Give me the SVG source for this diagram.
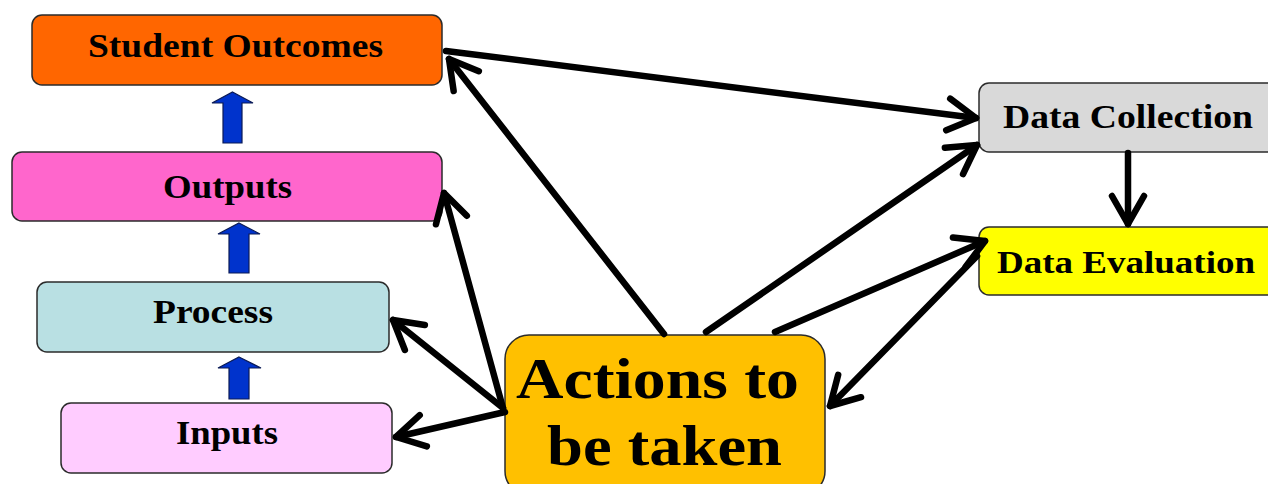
<svg xmlns="http://www.w3.org/2000/svg" width="1268" height="484" viewBox="0 0 1268 484">
<style>
.box{stroke:#2b2b2b;stroke-width:1.5}
.lbl{font-family:"Liberation Serif","Times New Roman",serif;font-weight:bold;fill:#000;text-anchor:middle}
.con{stroke:#000;stroke-width:6.5;fill:none;stroke-linecap:round}
.up{fill:#0033cc;stroke:#0a1a55;stroke-width:1.2}
</style>
<defs>
<marker id="ah" markerUnits="userSpaceOnUse" markerWidth="60" markerHeight="60" viewBox="-40 -30 60 60" refX="0" refY="0" orient="auto" overflow="visible">
<path d="M-28,-16 L0,0 L-28,16" fill="none" stroke="#000" stroke-width="6.5" stroke-linecap="round" stroke-linejoin="round"/>
</marker>
</defs>
<rect width="1268" height="484" fill="#fff"/>
<g id="student-outcomes"><rect class="box" x="32" y="15" width="410" height="70" rx="10" fill="#ff6600"/><text class="lbl" x="235.5" y="57" font-size="33" textLength="295" lengthAdjust="spacingAndGlyphs">Student Outcomes</text></g>
<g id="outputs"><rect class="box" x="12" y="152" width="430" height="69" rx="10" fill="#ff66cc"/><text class="lbl" x="227.5" y="198" font-size="33" textLength="129" lengthAdjust="spacingAndGlyphs">Outputs</text></g>
<g id="process"><rect class="box" x="37" y="282" width="352" height="70" rx="10" fill="#b9e0e3"/><text class="lbl" x="213" y="323" font-size="33" textLength="120" lengthAdjust="spacingAndGlyphs">Process</text></g>
<g id="inputs"><rect class="box" x="61" y="403" width="331" height="70" rx="10" fill="#ffccff"/><text class="lbl" x="227" y="444" font-size="33" textLength="102" lengthAdjust="spacingAndGlyphs">Inputs</text></g>
<g id="actions"><rect class="box" x="505" y="335" width="320" height="160" rx="24" fill="#ffc000"/><text class="lbl" x="657.5" y="398" font-size="57" textLength="283" lengthAdjust="spacingAndGlyphs">Actions to</text><text class="lbl" x="664.5" y="465" font-size="57" textLength="235" lengthAdjust="spacingAndGlyphs">be taken</text></g>
<g id="data-collection"><rect class="box" x="979" y="83" width="300" height="69" rx="10" fill="#d9d9d9"/><text class="lbl" x="1128" y="128" font-size="33" textLength="250" lengthAdjust="spacingAndGlyphs">Data Collection</text></g>
<g id="data-evaluation"><rect class="box" x="979" y="227" width="300" height="68" rx="10" fill="#ffff00"/><text class="lbl" x="1126" y="273" font-size="32" textLength="258" lengthAdjust="spacingAndGlyphs">Data Evaluation</text></g>
<g id="flow-arrows">
<polygon class="up" points="232.5,92 253,103 242,103 242,143 223,143 223,103 212,103"/>
<polygon class="up" points="239,223 260,234 249,234 249,273 229,273 229,234 218,234"/>
<polygon class="up" points="239,357 261,368 249,368 249,399 229,399 229,368 218,368"/>
</g>
<g id="connectors">
<line class="con" x1="446" y1="51" x2="976" y2="118" marker-end="url(#ah)"/>
<line class="con" x1="664" y1="334" x2="449" y2="59" marker-end="url(#ah)"/>
<line class="con" x1="503" y1="408" x2="444" y2="193" marker-end="url(#ah)"/>
<line class="con" x1="503" y1="408" x2="393" y2="320" marker-end="url(#ah)"/>
<line class="con" x1="505" y1="412" x2="396" y2="437" marker-end="url(#ah)"/>
<line class="con" x1="706" y1="332" x2="977" y2="145" marker-end="url(#ah)"/>
<line class="con" x1="775" y1="332" x2="985" y2="241" marker-end="url(#ah)"/>
<line class="con" x1="977" y1="256" x2="830" y2="406" marker-end="url(#ah)"/>
<line class="con" x1="1128" y1="153" x2="1128" y2="224" marker-end="url(#ah)"/>
</g>
</svg>
